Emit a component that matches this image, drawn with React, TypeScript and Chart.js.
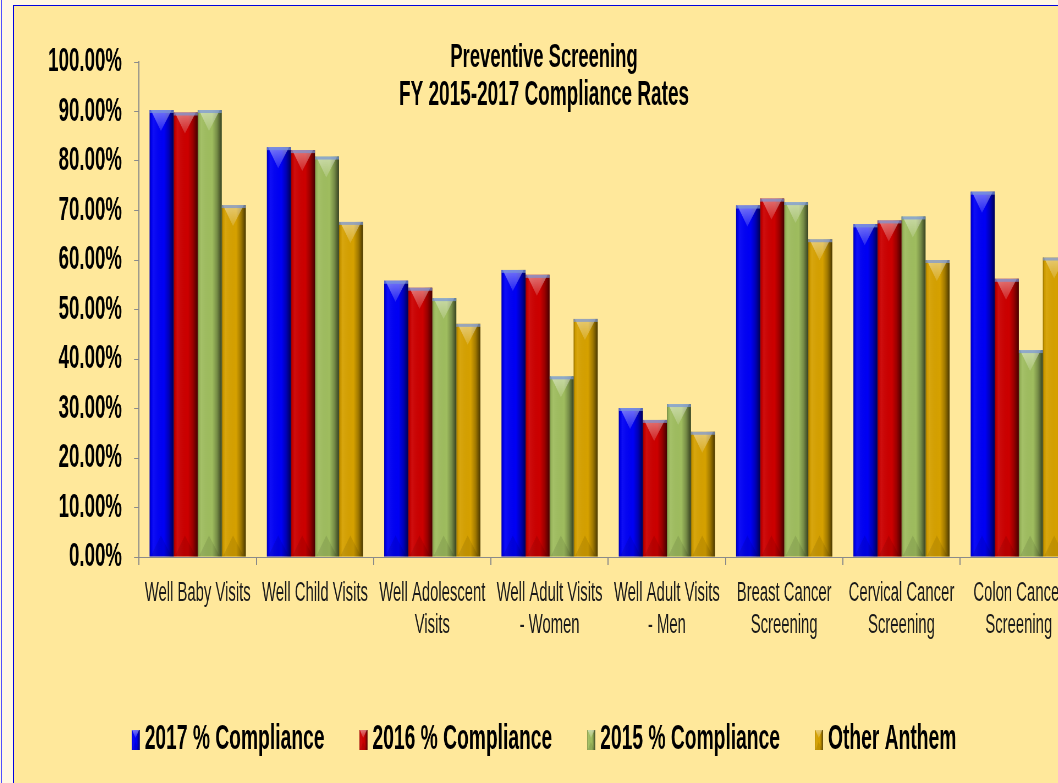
import React, { useEffect, useRef } from 'react';
import { Chart, registerables } from 'chart.js';

Chart.register(...registerables);

// ---------- data ----------
const categories: string[][] = [
  ['Well Baby Visits'],
  ['Well Child Visits'],
  ['Well Adolescent', 'Visits'],
  ['Well Adult Visits', '- Women'],
  ['Well Adult Visits', '- Men'],
  ['Breast Cancer', 'Screening'],
  ['Cervical Cancer', 'Screening'],
  ['Colon Cancer', 'Screening'],
];
const seriesLabels = ['2017 % Compliance', '2016 % Compliance', '2015 % Compliance', 'Other Anthem'];
const compliance2017 = [90.3, 82.8, 55.8, 58.0, 30.1, 71.0, 67.2, 73.8];
const compliance2016 = [89.8, 82.2, 54.4, 57.0, 27.7, 72.4, 68.0, 56.2];
const compliance2015 = [90.3, 80.9, 52.3, 36.5, 30.9, 71.7, 68.8, 41.8];
const otherAnthem = [71.1, 67.7, 47.1, 48.1, 25.3, 64.2, 60.0, 60.5];
const seriesColors = ['#0000F5', '#CC0000', '#9FBD5F', '#D6A100'];
const titleLines = ['Preventive Screening', 'FY 2015-2017 Compliance Rates'];
const yMin = 0;
const yMax = 100;
const yStep = 10;

// ---------- layout (visual squeeze of the chart) ----------
const SX = 0.55;
const CANVAS_W = 1960;
const CANVAS_H = 777;
const FONT = "'Liberation Sans', Arial, 'DejaVu Sans', sans-serif";

function bevel(ctx: CanvasRenderingContext2D, left: number, right: number, top: number, bottom: number, small = false) {
  const w = right - left;
  const h = bottom - top;
  if (w <= 0 || h <= 0) return;
  ctx.save();
  const g = ctx.createLinearGradient(left, 0, right, 0);
  g.addColorStop(0, 'rgba(0,0,0,0.30)');
  g.addColorStop(0.07, 'rgba(0,0,0,0.04)');
  g.addColorStop(0.15, 'rgba(255,255,255,0.06)');
  g.addColorStop(0.6, 'rgba(0,0,0,0)');
  g.addColorStop(0.8, 'rgba(0,0,0,0.25)');
  g.addColorStop(1, 'rgba(0,0,0,0.65)');
  ctx.fillStyle = g;
  ctx.fillRect(left, top, w, h);
  const th = Math.min(small ? 8 : 21, h / 2);
  const cx = left + w * 0.47;
  ctx.beginPath();
  ctx.moveTo(left + w * 0.05, top);
  ctx.lineTo(right - w * 0.08, top);
  ctx.lineTo(cx, top + th);
  ctx.closePath();
  const tg = ctx.createLinearGradient(0, top, 0, top + th);
  tg.addColorStop(0, 'rgba(255,255,255,0.45)');
  tg.addColorStop(1, 'rgba(255,255,255,0.14)');
  ctx.fillStyle = tg;
  ctx.fill();
  ctx.beginPath();
  ctx.moveTo(left + w * 0.05, bottom);
  ctx.lineTo(right - w * 0.08, bottom);
  ctx.lineTo(cx, bottom - th);
  ctx.closePath();
  ctx.fillStyle = 'rgba(0,0,0,0.09)';
  ctx.fill();
  if (!small) {
    ctx.fillStyle = 'rgba(120,150,215,0.7)';
    ctx.fillRect(left, top, w, 3);
  }
  ctx.restore();
}

const bevelPlugin = {
  id: 'bevelBars',
  afterDatasetsDraw(chart: any) {
    const ctx = chart.ctx as CanvasRenderingContext2D;
    chart.data.datasets.forEach((_d: any, i: number) => {
      const meta = chart.getDatasetMeta(i);
      meta.data.forEach((el: any) => {
        const p = el.getProps(['x', 'y', 'width', 'base'], true);
        const left = p.x - p.width / 2;
        const right = p.x + p.width / 2;
        bevel(ctx, left, right, Math.min(p.y, p.base), Math.max(p.y, p.base));
      });
    });
  },
};

const textPlugin = {
  id: 'titleLegend',
  afterDraw(chart: any) {
    const ctx = chart.ctx as CanvasRenderingContext2D;
    const centerX = (544 - 14) / SX;
    ctx.save();
    ctx.fillStyle = '#000';
    ctx.textAlign = 'center';
    ctx.textBaseline = 'alphabetic';
    ctx.font = `bold 33.5px ${FONT}`;
    ctx.fillText(titleLines[0], centerX, 61);
    ctx.font = `bold 34.5px ${FONT}`;
    ctx.fillText(titleLines[1], centerX, 98.5);

    // legend
    ctx.font = `bold 35px ${FONT}`;
    const markerW = 8 / SX;
    const markerGap = 5 / SX;
    const itemGap = 35 / SX;
    const items = chart.data.datasets.map((d: any) => ({
      label: d.label as string,
      color: d.backgroundColor as string,
      w: ctx.measureText(d.label).width,
    }));
    let total = 0;
    items.forEach((it: any, i: number) => {
      total += markerW + markerGap + it.w + (i < items.length - 1 ? itemGap : 0);
    });
    let x = centerX - total / 2;
    const markerTop = 724;
    const markerH = 20;
    const baseline = 743;
    ctx.textAlign = 'left';
    items.forEach((it: any) => {
      ctx.fillStyle = it.color;
      ctx.fillRect(x, markerTop, markerW, markerH);
      bevel(ctx, x, x + markerW, markerTop, markerTop + markerH, true);
      x += markerW + markerGap;
      ctx.fillStyle = '#000';
      ctx.fillText(it.label, x, baseline);
      x += it.w + itemGap;
    });
    ctx.restore();
  },
};

export default function App() {
  const canvasRef = useRef<HTMLCanvasElement | null>(null);

  useEffect(() => {
    document.body.style.overflow = 'hidden';
    const canvas = canvasRef.current;
    if (!canvas) return;
    const series = [compliance2017, compliance2016, compliance2015, otherAnthem];
    const chart = new Chart(canvas, {
      type: 'bar',
      data: {
        labels: categories,
        datasets: series.map((values, i) => ({
          label: seriesLabels[i],
          data: values,
          backgroundColor: seriesColors[i],
          borderWidth: 0,
          barPercentage: 1.0,
          categoryPercentage: 0.82,
        })),
      },
      options: {
        responsive: false,
        animation: false,
        devicePixelRatio: 1,
        layout: { padding: { top: 56, left: 0, right: CANVAS_W - 1933.5, bottom: 0 } },
        plugins: {
          legend: { display: false },
          title: { display: false },
          tooltip: { enabled: false },
        },
        scales: {
          x: {
            type: 'category',
            offset: true,
            grid: {
              offset: true,
              drawOnChartArea: false,
              drawTicks: true,
              tickLength: 8,
              color: '#8a8a8a',
              lineWidth: 2,
            },
            border: { display: true, color: '#8a8a8a', width: 1 },
            ticks: {
              font: { family: FONT, size: 27, lineHeight: 1.2 },
              color: '#1a1a1a',
              maxRotation: 0,
              minRotation: 0,
              autoSkip: false,
              padding: 12,
            },
            afterFit: (scale: any) => {
              scale.height = 226;
            },
          },
          y: {
            min: yMin,
            max: yMax,
            ticks: {
              stepSize: yStep,
              callback: (v: any) => `${Number(v).toFixed(2)}%`,
              font: { family: FONT, size: 34, weight: 'bold' },
              color: '#000',
              padding: 22,
            },
            grid: {
              drawOnChartArea: false,
              drawTicks: true,
              tickLength: 9,
              color: '#8a8a8a',
              lineWidth: 1,
            },
            border: { display: true, color: '#8a8a8a', width: 2 },
            afterFit: (scale: any) => {
              scale.width = 227.3;
            },
          },
        },
      },
      plugins: [bevelPlugin, textPlugin],
    } as any);
    return () => {
      chart.destroy();
    };
  }, []);

  return (
    <div
      style={{
        position: 'fixed',
        left: 0,
        top: 0,
        width: 1058,
        height: 783,
        overflow: 'hidden',
        background: '#FFF7E4',
      }}
    >
      <div style={{ position: 'absolute', left: 1, top: 0, width: 1, height: 783, background: '#5050FF' }} />
      <div
        style={{
          position: 'absolute',
          left: 13,
          top: 5,
          width: 1200,
          height: 900,
          background: '#FFE89B',
          borderLeft: '1px solid #0000E0',
          borderTop: '1px solid #0000E0',
        }}
      />
      <div
        style={{
          position: 'absolute',
          left: 14,
          top: 6,
          width: CANVAS_W,
          height: CANVAS_H,
          transform: `scaleX(${SX})`,
          transformOrigin: '0 0',
        }}
      >
        <canvas ref={canvasRef} width={CANVAS_W} height={CANVAS_H} style={{ display: 'block' }} />
      </div>
    </div>
  );
}
